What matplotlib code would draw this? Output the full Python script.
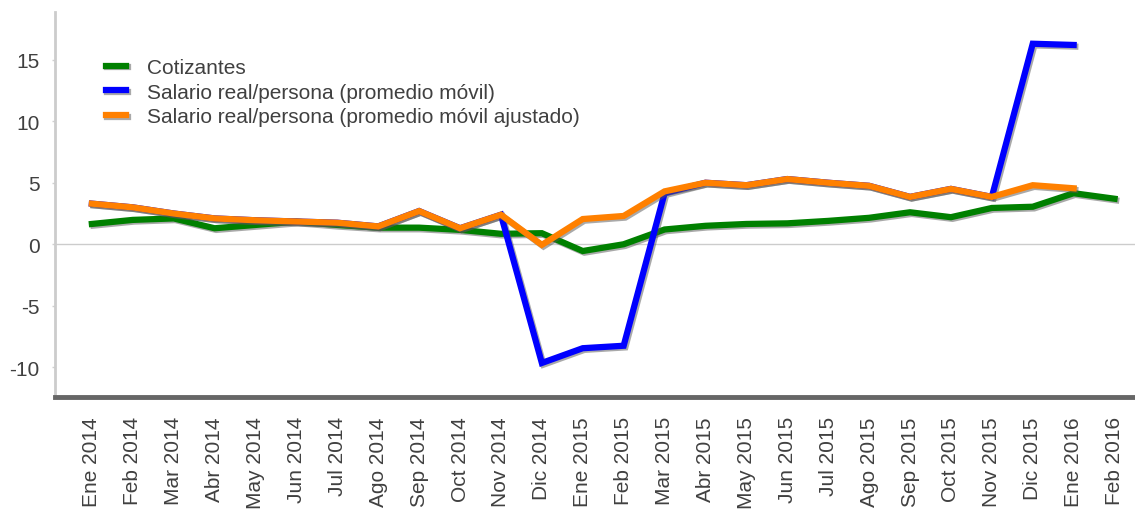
import matplotlib
matplotlib.use("Agg")
import matplotlib.pyplot as plt
import matplotlib.patheffects as pe
import numpy as np

plt.rcParams['font.family'] = ['Liberation Sans', 'DejaVu Sans']
plt.rcParams['axes.unicode_minus'] = False

meses = ["Ene 2014", "Feb 2014", "Mar 2014", "Abr 2014", "May 2014", "Jun 2014",
         "Jul 2014", "Ago 2014", "Sep 2014", "Oct 2014", "Nov 2014", "Dic 2014",
         "Ene 2015", "Feb 2015", "Mar 2015", "Abr 2015", "May 2015", "Jun 2015",
         "Jul 2015", "Ago 2015", "Sep 2015", "Oct 2015", "Nov 2015", "Dic 2015",
         "Ene 2016", "Feb 2016"]

cotizantes = [1.65, 1.98, 2.1, 1.3, 1.57, 1.84, 1.57, 1.35, 1.35, 1.17, 0.85, 0.9,
              -0.55, 0.0, 1.2, 1.5, 1.65, 1.7, 1.9, 2.15, 2.6, 2.2, 2.95, 3.05,
              4.15, 3.7]

salario_movil = [3.3, 3.0, 2.5, 2.1, 1.95, 1.85, 1.75, 1.45, 2.7, 1.3, 2.4, -9.65,
                 -8.45, -8.25, 4.15, 5.0, 4.8, 5.3, 5.0, 4.75, 3.85, 4.5, 3.85, 16.3,
                 16.2, np.nan]

salario_ajustado = [3.3, 3.0, 2.5, 2.1, 1.95, 1.85, 1.75, 1.45, 2.7, 1.3, 2.4, -0.05,
                    2.05, 2.3, 4.3, 5.0, 4.8, 5.3, 5.0, 4.75, 3.85, 4.5, 3.85, 4.8,
                    4.55, np.nan]

fig = plt.figure(figsize=(11.35, 5.1), dpi=100)
ax = fig.add_axes([0.0485, 0.22, 0.9515, 0.755])

x = np.arange(len(meses))
sombra = [pe.SimpleLineShadow(offset=(1.2, -1.2), shadow_color='#555555', alpha=0.5),
          pe.Normal()]

ax.plot(x, cotizantes, color='#008000', lw=4.5, label='Cotizantes',
        path_effects=sombra, solid_joinstyle='miter')
ax.plot(x, salario_movil, color='#0000ff', lw=4.5,
        label='Salario real/persona (promedio móvil)',
        path_effects=sombra, solid_joinstyle='miter')
ax.plot(x, salario_ajustado, color='#ff8000', lw=4.5,
        label='Salario real/persona (promedio móvil ajustado)',
        path_effects=sombra, solid_joinstyle='miter')

ax.axhline(0, color='#cccccc', lw=1, zorder=0)

ax.set_xlim(-0.9, 25.5)
ax.set_ylim(-12.4, 18.9)
ax.set_yticks([-10, -5, 0, 5, 10, 15])
ax.set_xticks(x)
ax.set_xticklabels(meses, rotation=90)

for s in ['top', 'right']:
    ax.spines[s].set_visible(False)
ax.spines['left'].set_color('#cccccc')
ax.spines['left'].set_linewidth(2)
ax.spines['bottom'].set_color('#666666')
ax.spines['bottom'].set_linewidth(3.5)

ax.tick_params(axis='y', colors='#d0d0d0', labelcolor='#404040', labelsize=15,
               length=2, width=1, pad=9)
ax.tick_params(axis='x', length=0, labelcolor='#404040', labelsize=15, pad=14)

leg = ax.legend(loc='upper left', bbox_to_anchor=(0.047, 0.88), frameon=False,
                fontsize=15, handlelength=0.97, handletextpad=1.0, labelspacing=0.27,
                borderpad=0, borderaxespad=0)
for t in leg.get_texts():
    t.set_color('#404040')

fig.savefig('out.png', dpi=100)
